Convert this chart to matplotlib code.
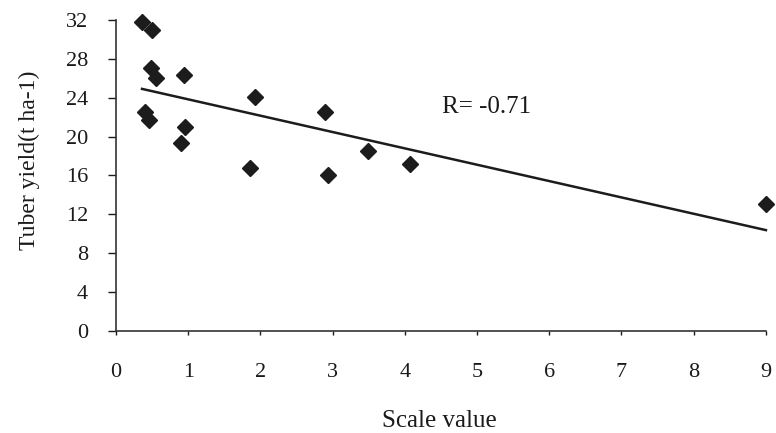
#
# Scatter of tuber yield against scale value with a fitted line
#

import matplotlib
matplotlib.use("Agg")
import matplotlib.pyplot as plt
import numpy as np

scale_value = [0.36, 0.50, 0.49, 0.56, 0.94, 1.92, 0.40, 0.46, 0.96, 0.90,
               2.90, 1.86, 2.93, 3.49, 4.07, 9.00]
tuber_yield = [31.8, 31.0, 27.1, 26.0, 26.3, 24.1, 22.5, 21.7, 21.0, 19.3,
               22.5, 16.8, 16.0, 18.5, 17.2, 13.1]
x_ticks = list(range(0, 10))
y_ticks = list(range(0, 33, 4))
r_text = "R= -0.71"


def make_plot():
    plt.rcParams['font.family'] = ['Liberation Serif', 'DejaVu Serif']
    fig = plt.figure(figsize=(7.76, 4.33), dpi=100)
    ax = fig.add_axes([0.1495, 0.2356, 0.8375, 0.7182])

    x = np.array(scale_value)
    y = np.array(tuber_yield)
    ax.plot(x, y, linestyle='none', marker='D', markersize=8.5,
            color='#1c1c1c', clip_on=False)

    slope, intercept = np.polyfit(x, y, 1)
    xs = np.array([x.min(), x.max()])
    ax.plot(xs, slope * xs + intercept, color='#1c1c1c', linewidth=1.8,
            clip_on=False)

    ax.set_xlim(0, 9)
    ax.set_ylim(0, 32)
    ax.set_xticks(x_ticks)
    ax.set_yticks(y_ticks)
    ax.spines['top'].set_visible(False)
    ax.spines['right'].set_visible(False)
    for side in ['left', 'bottom']:
        ax.spines[side].set_linewidth(1.2)
        ax.spines[side].set_color('#333333')
    ax.tick_params(axis='y', direction='out', length=5.5, width=1,
                   labelsize=16, pad=14.5, colors='#1a1a1a')
    ax.tick_params(axis='x', direction='out', length=3, width=1,
                   labelsize=16, pad=20, colors='#1a1a1a')

    ax.text(4.51, 22.4, r_text, fontsize=18, color='#1a1a1a')

    ax.set_xlabel("Scale value", fontsize=18, color='#1a1a1a')
    ax.xaxis.set_label_coords(0.498, -0.255)
    ax.set_ylabel("Tuber yield(t ha-1)", fontsize=17, color='#1a1a1a')
    ax.yaxis.set_label_coords(-0.117, 0.55)

    fig.savefig("out.png", dpi=100)


if __name__ == '__main__':
    make_plot()
